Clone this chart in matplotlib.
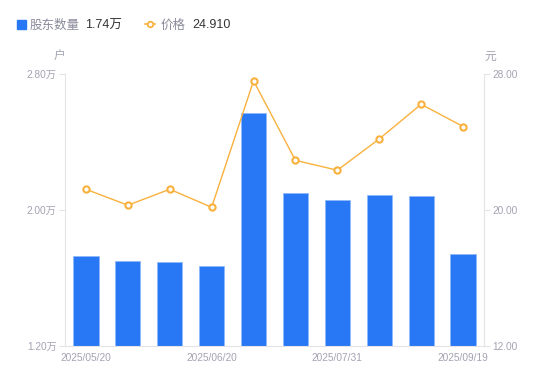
import numpy as np
import matplotlib.pyplot as plt

plt.rcParams['font.family'] = ['Liberation Sans', 'Noto Sans CJK SC', 'DejaVu Sans']

# ---------------- DATA ---------------- #
holders = [1.73, 1.70, 1.695, 1.67, 2.57, 2.10, 2.06, 2.09, 2.08, 1.74]   # 万户
price = [21.22, 20.28, 21.22, 20.16, 27.60, 22.92, 22.34, 24.18, 26.22, 24.91]  # 元
tick_idx = [0, 3, 6, 9]
tick_labels = ["2025/05/20", "2025/06/20", "2025/07/31", "2025/09/19"]

BLUE = "#2878F5"
ORANGE = "#F9B13D"
GRAY = "#A3A3B3"
LINE = "#E3E3E8"

fig = plt.figure(figsize=(5.5, 3.81), dpi=100)
ax = fig.add_axes([65 / 550, 35 / 381, 419 / 550, 272 / 381])
ax2 = ax.twinx()

x = np.arange(len(holders))
ax.bar(x, holders, width=0.6, color=BLUE, edgecolor="#8FB8F8", linewidth=0.6, zorder=2)
ax2.plot(x, price, color=ORANGE, linewidth=1, marker="o", markersize=4.5,
         markerfacecolor="white", markeredgecolor=ORANGE, markeredgewidth=1.5, zorder=3)

ax.set_xlim(-0.5, len(holders) - 0.5)
ax.set_ylim(1.2, 2.8)
ax2.set_ylim(12, 28)

ax.set_yticks([1.2, 2.0, 2.8])
ax.set_yticklabels(["1.20万", "2.00万", "2.80万"])
ax2.set_yticks([12, 20, 28])
ax2.set_yticklabels(["12.00", "20.00", "28.00"])
ax.set_xticks(tick_idx)
ax.set_xticklabels(tick_labels)

for a in (ax, ax2):
    for s in a.spines.values():
        s.set_visible(False)
    a.tick_params(colors=GRAY, labelsize=7.3, length=4, width=0.8)
    a.tick_params(axis="y", color=LINE, labelcolor=GRAY, pad=2)
ax.tick_params(axis="x", length=0, pad=5, labelcolor=GRAY)
ax.spines["left"].set_visible(True)
ax.spines["left"].set_color(LINE)
ax.spines["bottom"].set_visible(True)
ax.spines["bottom"].set_color(LINE)
ax2.spines["right"].set_visible(True)
ax2.spines["right"].set_color(LINE)
ax.set_zorder(ax2.get_zorder() - 1)
ax2.patch.set_visible(False)

# units
fig.text(60 / 550, 1 - 57 / 381, "户", color=GRAY, fontsize=8.5, ha="center", va="center")
fig.text(490 / 550, 1 - 57 / 381, "元", color=GRAY, fontsize=8.5, ha="center", va="center")

# legend
ly = 1 - 25.5 / 381
fig.patches.append(plt.Rectangle((17 / 550, 1 - 28.5 / 381), 8.5 / 550, 8.5 / 381,
                                 transform=fig.transFigure, color=BLUE, figure=fig))
fig.text(30 / 550, ly, "股东数量", color="#8A8A9A", fontsize=9, va="center")
fig.text(85 / 550, ly, "1.74万", color="#333333", fontsize=9, va="center")
fig.lines.append(plt.Line2D([145 / 550, 155 / 550], [1 - 24 / 381] * 2, transform=fig.transFigure,
                            color=ORANGE, linewidth=1.2, figure=fig))
fig.lines.append(plt.Line2D([150 / 550], [1 - 24 / 381], transform=fig.transFigure,
                            color=ORANGE, marker="o", markersize=4, markerfacecolor="white",
                            markeredgewidth=1.3, figure=fig))
fig.text(161 / 550, ly, "价格", color="#8A8A9A", fontsize=9, va="center")
fig.text(192 / 550, ly, "24.910", color="#333333", fontsize=9, va="center")

fig.savefig("out.png", dpi=100)
